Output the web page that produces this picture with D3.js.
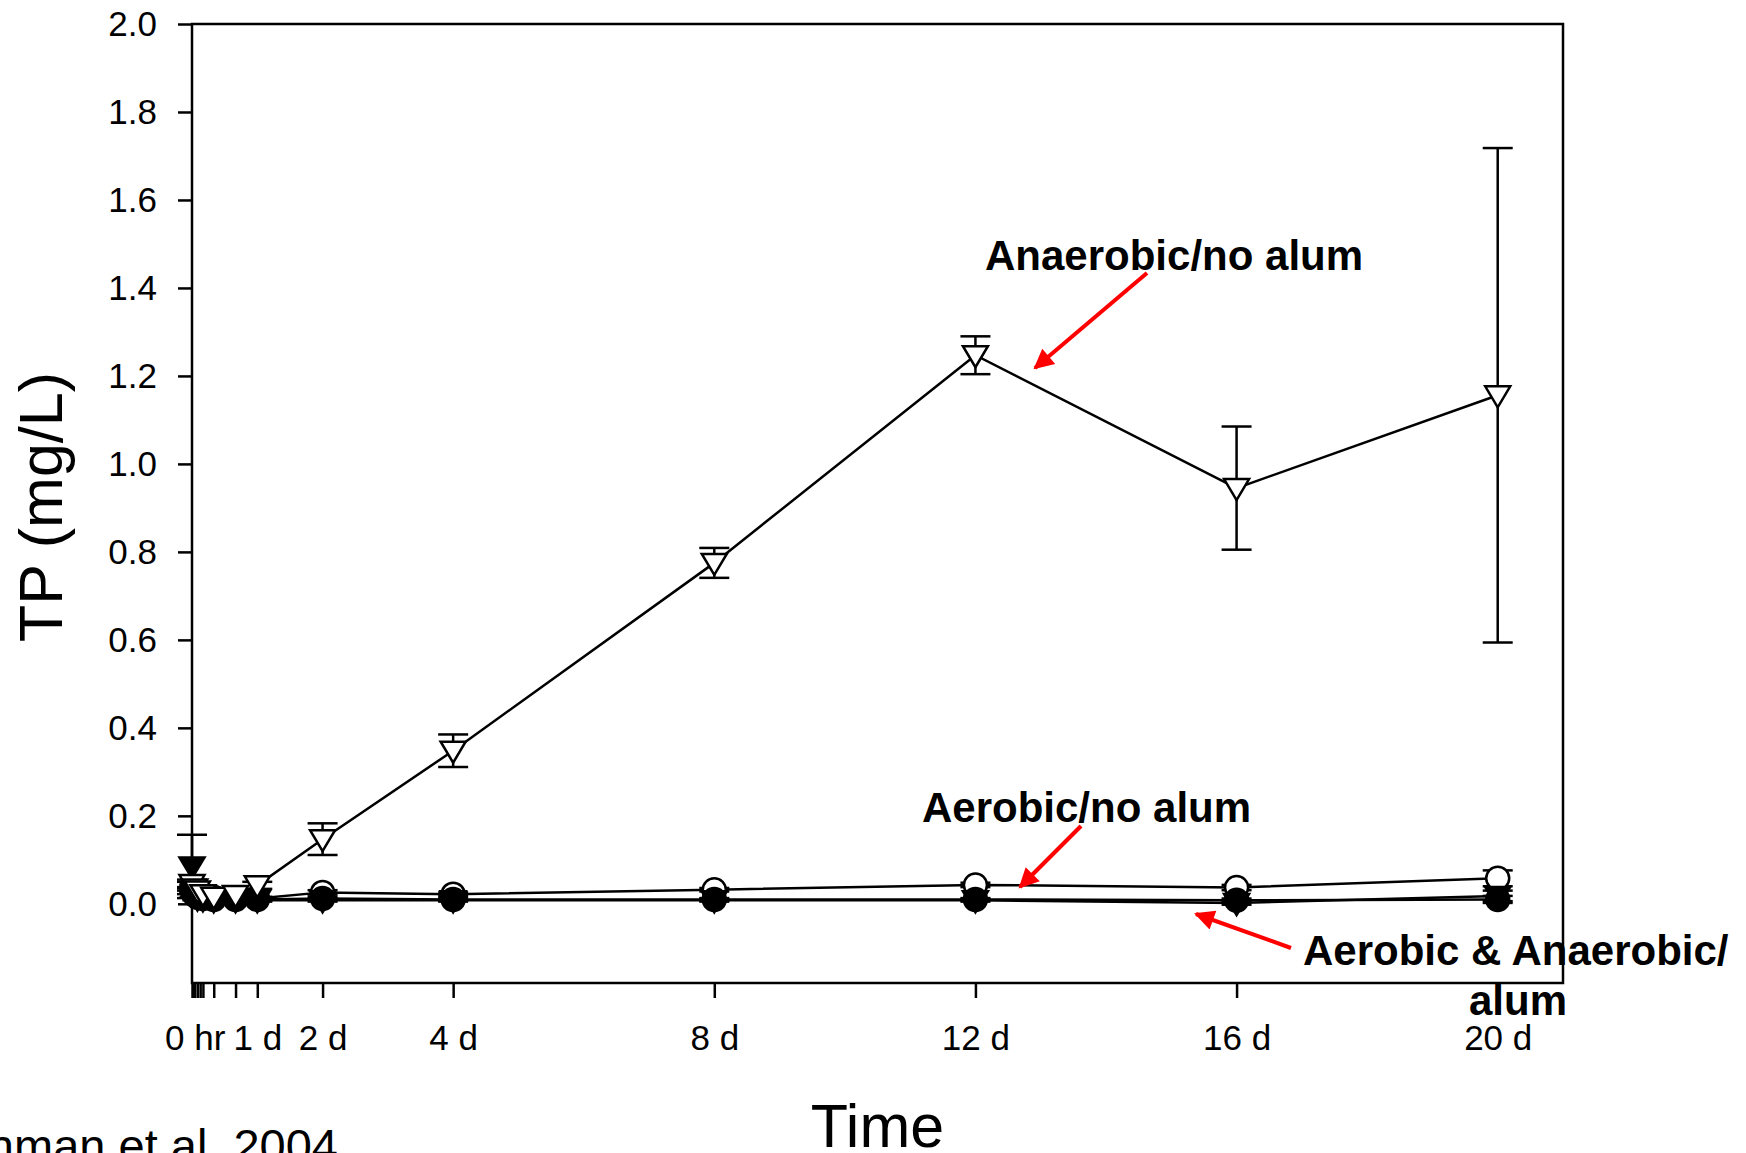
<!DOCTYPE html>
<html>
<head>
<meta charset="utf-8">
<script src="https://cdn.jsdelivr.net/npm/d3@7"></script>
<style>
  body { margin: 0; background: #fff; }
  svg { display: block; font-family: "Liberation Sans", Arial, sans-serif; }
</style>
</head>
<body>
<div id="chart"></div>
<script>
// === Data (time in days, TP in mg/L) ===
const times = [0, 0.042, 0.083, 0.167, 0.333, 0.667, 1, 2, 4, 8, 12, 16, 20];

const anaerobicNoAlum = [0.045, 0.035, 0.03, 0.022, 0.016, 0.02, 0.042, 0.147, 0.348, 0.775, 1.247, 0.945, 1.156];
const anaerobicNoAlumErr = [0.01, 0.008, 0.006, 0.005, 0.005, 0.006, 0.008, 0.036, 0.037, 0.034, 0.043, 0.14, 0.562];

const aerobicNoAlum = [0.04, 0.03, 0.025, 0.02, 0.015, 0.012, 0.012, 0.026, 0.022, 0.032, 0.043, 0.037, 0.058];
const aerobicNoAlumErr = [0.01, 0.006, 0.005, 0.004, 0.004, 0.004, 0.004, 0.005, 0.004, 0.004, 0.005, 0.006, 0.018];

const aerobicAlum = [0.03, 0.02, 0.015, 0.012, 0.01, 0.01, 0.01, 0.012, 0.01, 0.01, 0.01, 0.008, 0.01];
const aerobicAlumErr = [0.008, 0.005, 0.004, 0.004, 0.003, 0.003, 0.003, 0.004, 0.003, 0.003, 0.003, 0.004, 0.008];

const anaerobicAlum = [0.085, 0.02, 0.012, 0.01, 0.008, 0.008, 0.008, 0.008, 0.008, 0.008, 0.008, 0.002, 0.018];
const anaerobicAlumErr = [0.072, 0.006, 0.004, 0.004, 0.003, 0.003, 0.003, 0.003, 0.003, 0.003, 0.003, 0.004, 0.012];

const yTicks = [0, 0.2, 0.4, 0.6, 0.8, 1.0, 1.2, 1.4, 1.6, 1.8, 2.0];
const xTicks = [0, 0.021, 0.042, 0.083, 0.125, 0.167, 0.333, 0.667, 1, 2, 4, 8, 12, 16, 20];
const xTickLabels = { 0.042: "0 hr", 1: "1 d", 2: "2 d", 4: "4 d", 8: "8 d", 12: "12 d", 16: "16 d", 20: "20 d" };

// === Chart dimensions ===
const width = 1746;
const height = 1153;
const margin = { left: 192, right: 183, top: 24, bottom: 170 };

const svg = d3.select("#chart")
  .append("svg")
  .attr("width", width)
  .attr("height", height);

const x = d3.scaleLinear().domain([0, 21]).range([margin.left, width - margin.right]);
const y = d3.scaleLinear().domain([-0.18, 2.0]).range([height - margin.bottom, margin.top]);

// === Axes ===
const yAxis = svg.append("g")
  .attr("transform", `translate(${margin.left},0)`)
  .call(d3.axisLeft(y).tickValues(yTicks).tickFormat(d3.format(".1f")).tickSize(14).tickPadding(21));

const xAxis = svg.append("g")
  .attr("transform", `translate(0,${height - margin.bottom})`)
  .call(d3.axisBottom(x).tickValues(xTicks).tickFormat((d) => xTickLabels[d] || "").tickSize(15).tickPadding(27));

[yAxis, xAxis].forEach((g) => {
  g.select(".domain").remove();
  g.selectAll("line").attr("stroke", "#000").attr("stroke-width", 2.5);
  g.selectAll("text").attr("fill", "#000").style("font-size", "35px").style("font-family", "'Liberation Sans', Arial, sans-serif");
});

// frame
svg.append("rect")
  .attr("x", x(0))
  .attr("y", y(2.0))
  .attr("width", x(21) - x(0))
  .attr("height", y(-0.18) - y(2.0))
  .attr("fill", "none")
  .attr("stroke", "#000")
  .attr("stroke-width", 2.5);

// === Series ===
const triDown = "M-12.5,-9L12.5,-9L0,12Z";
const series = [
  { name: "Aerobic/no alum", values: aerobicNoAlum, err: aerobicNoAlumErr, shape: "circle", fill: "#fff" },
  { name: "Aerobic/alum", values: aerobicAlum, err: aerobicAlumErr, shape: "circle", fill: "#000" },
  { name: "Anaerobic/alum", values: anaerobicAlum, err: anaerobicAlumErr, shape: "tri", fill: "#000" },
  { name: "Anaerobic/no alum", values: anaerobicNoAlum, err: anaerobicNoAlumErr, shape: "tri", fill: "#fff" }
];

const line = d3.line().x((d) => x(d.t)).y((d) => y(d.v));

series.forEach((s) => {
  const pts = times.map((t, i) => ({ t, v: s.values[i], e: s.err[i] }));
  const g = svg.append("g");

  g.append("path")
    .datum(pts)
    .attr("d", line)
    .attr("fill", "none")
    .attr("stroke", "#000")
    .attr("stroke-width", 2.5);

  // error bars
  const eb = g.selectAll(".eb").data(pts).enter().append("g");
  eb.append("line")
    .attr("x1", (d) => x(d.t)).attr("x2", (d) => x(d.t))
    .attr("y1", (d) => y(d.v + d.e)).attr("y2", (d) => y(d.v - d.e))
    .attr("stroke", "#000").attr("stroke-width", 2.5);
  [1, -1].forEach((sign) => {
    eb.append("line")
      .attr("x1", (d) => x(d.t) - 15).attr("x2", (d) => x(d.t) + 15)
      .attr("y1", (d) => y(d.v + sign * d.e)).attr("y2", (d) => y(d.v + sign * d.e))
      .attr("stroke", "#000").attr("stroke-width", 2.5);
  });

  // markers
  const m = g.selectAll(".m").data(pts).enter();
  if (s.shape === "circle") {
    m.append("circle")
      .attr("cx", (d) => x(d.t)).attr("cy", (d) => y(d.v))
      .attr("r", 11.5)
      .attr("fill", s.fill).attr("stroke", "#000").attr("stroke-width", 2.5);
  } else {
    m.append("path")
      .attr("d", triDown)
      .attr("transform", (d) => `translate(${x(d.t)},${y(d.v)})`)
      .attr("fill", s.fill).attr("stroke", "#000").attr("stroke-width", 2.5)
      .attr("stroke-linejoin", "miter");
  }
});

// === Axis titles ===
svg.append("text")
  .attr("transform", `translate(62,507) rotate(-90)`)
  .attr("text-anchor", "middle")
  .style("font-size", "61px")
  .text("TP (mg/L)");

svg.append("text")
  .attr("x", (x(0) + x(21)) / 2)
  .attr("y", 1147)
  .attr("text-anchor", "middle")
  .style("font-size", "61px")
  .text("Time");

svg.append("text")
  .attr("x", 338)
  .attr("y", 1162)
  .attr("text-anchor", "end")
  .style("font-size", "47px")
  .text("hman et al. 2004");

// === Annotations with red arrows ===
svg.append("defs").append("marker")
  .attr("id", "head")
  .attr("viewBox", "0 0 10 10")
  .attr("refX", 9).attr("refY", 5)
  .attr("markerWidth", 5.5).attr("markerHeight", 5)
  .attr("markerUnits", "strokeWidth")
  .attr("orient", "auto")
  .append("path")
  .attr("d", "M0,0L10,5L0,10Z")
  .attr("fill", "#ff0000");

const labels = [
  { text: "Anaerobic/no alum", x: 985, y: 270, anchor: "start" },
  { text: "Aerobic/no alum", x: 922, y: 822, anchor: "start" },
  { text: "Aerobic & Anaerobic/", x: 1303, y: 965, anchor: "start" },
  { text: "alum", x: 1518, y: 1015, anchor: "middle" }
];
const arrows = [
  { x1: 1147, y1: 273, x2: 1035, y2: 368 },
  { x1: 1081, y1: 826, x2: 1020, y2: 887 },
  { x1: 1291, y1: 948, x2: 1196, y2: 914 }
];

svg.selectAll(".ann")
  .data(labels)
  .enter()
  .append("text")
  .attr("x", (d) => d.x)
  .attr("y", (d) => d.y)
  .attr("text-anchor", (d) => d.anchor)
  .style("font-size", "42px")
  .style("font-weight", "bold")
  .text((d) => d.text);

svg.selectAll(".arrow")
  .data(arrows)
  .enter()
  .append("line")
  .attr("x1", (d) => d.x1).attr("y1", (d) => d.y1)
  .attr("x2", (d) => d.x2).attr("y2", (d) => d.y2)
  .attr("stroke", "#ff0000")
  .attr("stroke-width", 4)
  .attr("marker-end", "url(#head)");
</script>
</body>
</html>
